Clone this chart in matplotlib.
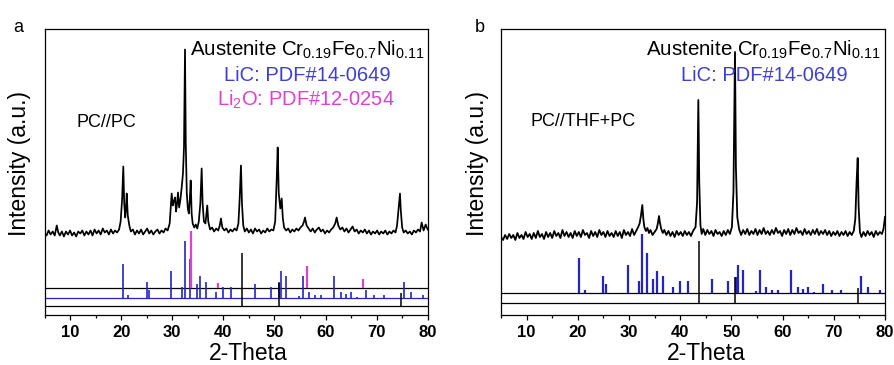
import matplotlib
matplotlib.use("Agg")
import matplotlib.pyplot as plt
from matplotlib.ticker import MultipleLocator

plt.rcParams['font.family'] = ['Liberation Sans', 'DejaVu Sans']
plt.rcParams['mathtext.fontset'] = 'custom'
plt.rcParams['mathtext.rm'] = 'Liberation Sans'
plt.rcParams['mathtext.default'] = 'regular'

W, H = 895, 365

# --- measured pattern, panel a (PC//PC), intensity above background (a.u.)
tt_a = [5.0, 5.4, 5.8, 6.2, 6.6, 7.0, 7.2, 7.4, 7.7, 8.0, 8.4, 8.8, 9.2, 9.6,
        10.0, 10.4, 10.8, 11.2, 11.6, 12.0, 12.4, 12.8, 13.2, 13.6, 14.0, 14.4,
        14.8, 15.2, 15.6, 16.0, 16.4, 16.8, 17.2, 17.6, 18.0, 18.4, 18.8, 19.2,
        19.6, 19.9, 20.2, 20.42, 20.6, 20.8, 20.95, 21.09, 21.3, 21.6, 21.9,
        22.3, 22.7, 23.1, 23.5, 23.9, 24.3, 24.7, 25.1, 25.5, 25.9, 26.3, 26.7,
        27.1, 27.5, 27.9, 28.3, 28.7, 29.1, 29.5, 29.75, 29.89, 30.1, 30.3,
        30.54, 30.75, 30.95, 31.13, 31.35, 31.6, 31.85, 32.1, 32.3, 32.5, 32.65,
        32.85, 33.05, 33.25, 33.45, 33.61, 33.8, 34.0, 34.3, 34.6, 34.9, 35.2,
        35.5, 35.76, 35.95, 36.2, 36.5, 36.86, 37.05, 37.4, 37.8, 38.2, 38.6,
        39.0, 39.3, 39.54, 39.8, 40.2, 40.6, 41.0, 41.4, 41.8, 42.2, 42.6, 42.95,
        43.2, 43.45, 43.65, 43.9, 44.2, 44.6, 45.0, 45.4, 45.8, 46.2, 46.6, 47.0,
        47.4, 47.8, 48.2, 48.6, 49.0, 49.4, 49.8, 50.15, 50.45, 50.64, 50.85,
        51.15, 51.42, 51.65, 51.9, 52.3, 52.7, 53.1, 53.5, 53.9, 54.3, 54.7,
        55.1, 55.5, 55.8, 55.98, 56.3, 56.7, 57.1, 57.5, 57.9, 58.3, 58.7, 59.1,
        59.5, 59.9, 60.3, 60.7, 61.1, 61.5, 61.9, 62.18, 62.5, 62.9, 63.3, 63.7,
        64.1, 64.5, 64.9, 65.3, 65.7, 66.1, 66.5, 66.9, 67.3, 67.7, 68.1, 68.5,
        68.9, 69.3, 69.7, 70.1, 70.5, 70.9, 71.3, 71.7, 72.1, 72.5, 72.9, 73.3,
        73.7, 74.0, 74.3, 74.57, 74.75, 75.0, 75.3, 75.7, 76.1, 76.5, 76.9,
        77.3, 77.7, 78.1, 78.5, 78.82, 79.2, 79.6, 80.0]
int_a = [0, -2, 3, -1, 2, -2, 3, 8, 1, -2, 2, -3, 2, -1,
         3, -2, 1, -3, 2, 0, 3, -2, 2, -1, 3, -2,
         4, 0, 3, -1, 5, 1, 3, -1, 4, 0, 3, 1,
         4, 12, 35, 67, 30, 16, 25, 40, 18, 8, 2,
         4, -1, 3, 0, 4, -1, 2, 5, 0, 3, -1, 2,
         4, 0, 3, 1, 5, 3, 10, 30, 40, 28, 32,
         36, 22, 30, 41, 26, 34, 46, 60, 86, 184, 90,
         40, 25, 20, 35, 53, 20, 10, 6, 9, 5, 12,
         30, 65, 30, 12, 10, 28, 12, 4, 6, 2, 5,
         3, 8, 15, 6, 3, 5, 1, 4, 2, 5, 3, 10,
         35, 68, 30, 8, 2, 5, 1, 4, 0, 5, 2, 4,
         0, 3, 1, 5, 2, 4, 3, 12, 55, 86, 40,
         25, 35, 15, 6, 3, 5, 1, 4, 2, 5, 3,
         6, 8, 12, 16, 8, 5, 2, 5, 1, 4, 6, 2,
         4, 0, 3, 1, 4, 6, 10, 16, 8, 4, 6, 2,
         5, 1, 4, 7, 2, 4, 0, 3, 1, 4, 0, 3,
         -1, 2, 0, 3, -1, 2, 0, 3, -1, 2, 0, 3,
         1, 8, 25, 40, 22, 6, 1, 3, 0, 2, -1,
         3, 1, 4, 2, 11, 3, 9, 4]

# --- measured pattern, panel b (PC//THF+PC)
tt_b = [5.0, 5.4, 5.8, 6.2, 6.6, 7.0, 7.4, 7.8, 8.2, 8.6, 9.0, 9.4, 9.8, 10.2,
        10.6, 11.0, 11.4, 11.8, 12.2, 12.6, 13.0, 13.4, 13.8, 14.2, 14.6, 15.0,
        15.4, 15.8, 16.2, 16.6, 17.0, 17.4, 17.8, 18.2, 18.6, 19.0, 19.4, 19.8,
        20.2, 20.6, 21.0, 21.4, 21.8, 22.2, 22.6, 23.0, 23.4, 23.8, 24.2, 24.6,
        25.0, 25.4, 25.8, 26.2, 26.6, 27.0, 27.4, 27.8, 28.2, 28.6, 29.0, 29.4,
        29.8, 30.2, 30.6, 31.0, 31.4, 31.8, 32.1, 32.35, 32.6, 32.8, 33.0, 33.3,
        33.6, 33.9, 34.2, 34.6, 35.0, 35.4, 35.65, 35.86, 36.05, 36.3, 36.6,
        36.9, 37.3, 37.7, 38.1, 38.5, 38.9, 39.3, 39.7, 40.1, 40.5, 40.9, 41.3,
        41.7, 42.1, 42.5, 43.0, 43.3, 43.54, 43.72, 43.95, 44.2, 44.5, 44.9,
        45.3, 45.7, 46.1, 46.5, 46.9, 47.3, 47.7, 48.1, 48.5, 48.9, 49.3, 49.7,
        50.1, 50.4, 50.55, 50.7, 50.88, 51.15, 51.5, 51.9, 52.3, 52.7, 53.1,
        53.5, 53.9, 54.3, 54.7, 55.1, 55.5, 55.9, 56.3, 56.7, 57.1, 57.5, 57.9,
        58.3, 58.7, 59.1, 59.5, 59.9, 60.3, 60.7, 61.1, 61.5, 61.9, 62.3, 62.7,
        63.1, 63.5, 63.9, 64.3, 64.7, 65.1, 65.5, 65.9, 66.3, 66.7, 67.1, 67.5,
        67.9, 68.3, 68.7, 69.1, 69.5, 69.9, 70.3, 70.7, 71.1, 71.5, 71.9, 72.3,
        72.7, 73.1, 73.5, 73.9, 74.2, 74.45, 74.67, 74.85, 75.1, 75.4, 75.8,
        76.2, 76.6, 77.0, 77.4, 77.8, 78.2, 78.6, 79.0, 79.4, 79.7, 80.0]
int_b = [0, -3, 2, -2, 3, -1, 2, -3, 4, -1, 2, -2, 5, 0,
         3, -2, 4, -1, 6, 0, 3, -2, 5, 0, 4, -1,
         6, 1, 4, -1, 7, 1, 5, 0, 4, -1, 6, 1,
         5, 0, 7, 2, 4, -1, 6, 1, 5, 0, 7, 2,
         5, 0, 6, 1, 4, 0, 6, 1, 5, -1, 7, 2,
         5, 1, 8, 2, 6, 10, 14, 22, 32, 18, 10, 6,
         9, 4, 7, 2, 5, 8, 14, 21, 14, 8, 4,
         7, 2, 6, 1, 5, 0, 6, 2, 5, 1, 6, 2,
         5, 1, 6, 10, 35, 137, 55, 12, 3, 8, 2,
         7, 3, 6, 1, 7, 3, 5, 1, 6, 2, 7, 3,
         10, 45, 120, 185, 70, 20, 8, 2, 7, 3, 8,
         2, 6, 3, 8, 2, 7, 3, 9, 3, 6, 2, 7,
         3, 9, 4, 6, 1, 7, 3, 8, 2, 7, 3, 9,
         4, 6, 2, 8, 3, 6, 2, 7, 3, 8, 2, 6,
         3, 7, 2, 6, 1, 5, 2, 6, 1, 5, 2, 6,
         1, 5, 2, 6, 18, 55, 79, 30, 5, 0, 5,
         1, 6, 2, 5, 0, 6, 2, 5, 3, 8, 20]

# --- reference cards (relative intensity, %)
lic_tt = [20.30, 21.41, 24.98, 25.45, 29.75, 31.95, 32.48, 33.46, 34.75, 35.53,
          36.70, 38.65, 39.96, 41.46, 46.27, 49.40, 50.90, 51.23, 52.21, 54.80,
          55.59, 56.76, 57.99, 59.16, 61.64, 63.07, 64.04, 65.02, 66.19, 67.83,
          69.58, 71.41, 75.31, 76.74, 79.02]
lic_int = [58, 4, 28, 14, 47, 19, 100, 67, 24, 37,
           28, 9, 19, 19, 24, 19, 27, 47, 38, 3,
           38, 9, 4, 4, 38, 9, 6, 9, 1, 14,
           4, 4, 28, 9, 4]
li2o_tt = [33.67, 39.0, 56.43, 67.39]
li2o_int = [100, 9, 40, 16]
aus_tt = [43.6, 50.8, 74.7]
aus_int = [100, 42, 23]

BLUE = '#2323c8'
BLUE_TXT = '#4040d0'
MAG = '#e040d0'

fig = plt.figure(figsize=(W / 100, H / 100), dpi=100)


def px_text(x, y, s, **kw):
    fig.text(x / W, 1 - y / H, s, **kw)


def make_axes(left, right):
    ax = fig.add_axes([left / W, 1 - 314.5 / H, (right - left) / W, 286 / H])
    ax.set_xlim(5, 80)
    ax.set_ylim(0, 286)
    ax.set_yticks([])
    ax.xaxis.set_major_locator(MultipleLocator(10))
    ax.xaxis.set_minor_locator(MultipleLocator(5))
    ax.set_xticks([10, 20, 30, 40, 50, 60, 70, 80])
    ax.tick_params(axis='x', which='major', direction='out', length=3.5,
                   width=0.9, labelsize=12, pad=4)
    ax.tick_params(axis='x', which='minor', direction='out', length=2,
                   width=0.9)
    for lab in ax.get_xticklabels():
        lab.set_fontweight('bold')
    for sp in ax.spines.values():
        sp.set_linewidth(0.9)
    return ax


# ---------------- panel a
ax = make_axes(44.5, 427.7)
ax.axhline(26.2, color='black', lw=0.9)
ax.axhline(17, color=BLUE, lw=0.9)
ax.axhline(9, color='black', lw=0.9)
ax.vlines(lic_tt, 17, [17 + v * 0.57 for v in lic_int], color=BLUE, lw=1.2)
ax.vlines(li2o_tt, 26.2, [26.2 + v * 0.57 for v in li2o_int], color=MAG, lw=1.6)
ax.vlines(aus_tt, 9, [9 + v * 0.53 for v in aus_int], color='black', lw=1.1)
ax.plot(tt_a, [81 + v for v in int_a], color='black', lw=1.25)

px_text(13, 31.7, 'a', fontsize=13, va='baseline')
px_text(77, 126.7, 'PC//PC', fontsize=13, va='baseline')
px_text(307, 56, r'Austenite Cr$_{0.19}$Fe$_{0.7}$Ni$_{0.11}$', fontsize=14.8,
        ha='center', va='baseline')
px_text(307, 81, 'LiC: PDF#14-0649', fontsize=14.5, color=BLUE_TXT,
        ha='center', va='baseline')
px_text(306, 106, r'Li$_2$O: PDF#12-0254', fontsize=14.5, color=MAG,
        ha='center', va='baseline')
px_text(248, 353, '2-Theta', fontsize=16.5, ha='center', va='center')
px_text(20, 164, 'Intensity (a.u.)', fontsize=16.5, rotation=90,
        ha='center', va='center')

# ---------------- panel b
ax = make_axes(501, 885)
ax.axhline(21.8, color='black', lw=0.9)
ax.axhline(11.8, color='black', lw=0.9)
ax.vlines(lic_tt, 21.8, [21.8 + v * 0.59 for v in lic_int], color=BLUE, lw=1.6)
ax.vlines(aus_tt, 11.8, [11.8 + v * 0.62 for v in aus_int], color='black', lw=1.1)
ax.plot(tt_b, [77.5 + v for v in int_b], color='black', lw=1.3)

px_text(475, 31.7, 'b', fontsize=13, va='baseline')
px_text(531, 126, 'PC//THF+PC', fontsize=13, va='baseline')
px_text(763.5, 56, r'Austenite Cr$_{0.19}$Fe$_{0.7}$Ni$_{0.11}$', fontsize=14.8,
        ha='center', va='baseline')
px_text(764.5, 81, 'LiC: PDF#14-0649', fontsize=14.5, color=BLUE_TXT,
        ha='center', va='baseline')
px_text(706.7, 353, '2-Theta', fontsize=16.5, ha='center', va='center')
px_text(478, 164, 'Intensity (a.u.)', fontsize=16.5, rotation=90,
        ha='center', va='center')

fig.savefig('out.png', dpi=100)
